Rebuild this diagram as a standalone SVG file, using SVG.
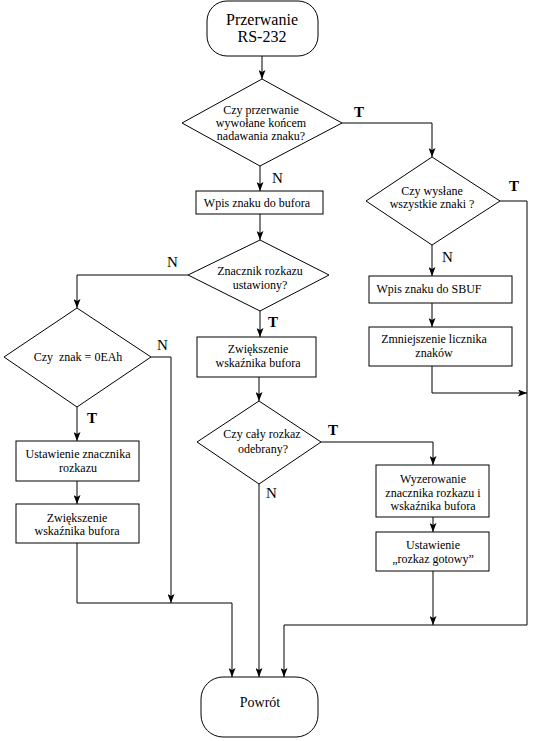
<svg xmlns="http://www.w3.org/2000/svg" width="533" height="741" viewBox="0 0 533 741">
<defs>
<marker id="ah" markerWidth="9" markerHeight="7" refX="9" refY="3.5" orient="auto" markerUnits="userSpaceOnUse">
<path d="M0,0 L9,3.5 L0,7 L2,3.5 z" fill="#000"/>
</marker>
<style>
.s{fill:#fff;stroke:#000;stroke-width:1}
.c{fill:none;stroke:#000;stroke-width:1;marker-end:url(#ah)}
text{font-size:12px;fill:#000;text-anchor:middle}
.big{font-size:16px}
.t{font-size:15px;font-weight:bold;text-anchor:start}
.n{font-size:15px;text-anchor:start}
</style>
</defs>
<rect width="533" height="741" fill="#fff"/>
<g font-family="'Liberation Serif', 'DejaVu Serif', serif">
<g id="connectors">
<path class="c" d="M262,56 V79"/>
<path class="c" d="M342,123 H432 V157"/>
<path class="c" d="M260,166 V191"/>
<path class="c" d="M260,214 V240"/>
<path class="c" d="M188,275 H77 V308"/>
<path class="c" d="M260,311 V337"/>
<path class="c" d="M259,377 V401"/>
<path class="c" d="M321,442 H433 V465"/>
<path class="c" d="M259,484 V677"/>
<path class="c" d="M433,517 V532"/>
<path class="c" d="M433,571 V625"/>
<path class="c" d="M500,201 H527 V625 H284 V677"/>
<path class="c" d="M432,245 V276"/>
<path class="c" d="M432,303 V327"/>
<path class="c" d="M432,366 V393 H527"/>
<path class="c" d="M151,357 H171 V603"/>
<path class="c" d="M77,407 V441"/>
<path class="c" d="M77,481 V504"/>
<path class="c" d="M77,543 V603 H232 V677"/>
<text class="t" x="354" y="117">T</text>
<text class="n" x="272" y="183">N</text>
<text class="t" x="509" y="191">T</text>
<text class="n" x="442" y="262">N</text>
<text class="n" x="167" y="267">N</text>
<text class="n" x="157" y="350">N</text>
<text class="t" x="268" y="327">T</text>
<text class="t" x="328" y="435">T</text>
<text class="n" x="266" y="498">N</text>
<text class="t" x="87" y="423">T</text>
</g>
<g id="start">
<rect class="s" x="207" y="1" width="111" height="55" rx="20" ry="20"/>
<text class="big" x="262" y="25">Przerwanie</text>
<text class="big" x="262" y="42">RS-232</text>
</g>
<g id="d1">
<path class="s" d="M262,79 L342,123 L260,166 L182,123 Z"/>
<text x="261" y="114">Czy przerwanie</text>
<text x="261" y="127">wywołane końcem</text>
<text x="261" y="140">nadawania znaku?</text>
</g>
<g id="b1">
<rect class="s" x="196" y="191" width="127" height="23"/>
<text x="257" y="207">Wpis znaku do bufora</text>
</g>
<g id="d2">
<path class="s" d="M432,157 L500,201 L432,245 L366,201 Z"/>
<text x="432" y="195">Czy wysłane</text>
<text x="432" y="208">wszystkie znaki ?</text>
</g>
<g id="b_sbuf">
<rect class="s" x="369" y="276" width="143" height="27"/>
<text x="429" y="293">Wpis znaku do SBUF</text>
</g>
<g id="b_zmn">
<rect class="s" x="369" y="327" width="143" height="39"/>
<text x="434" y="343">Zmniejszenie licznika</text>
<text x="434" y="357">znaków</text>
</g>
<g id="d3">
<path class="s" d="M260,240 L329,275 L260,311 L188,275 Z"/>
<text x="260" y="275">Znacznik rozkazu</text>
<text x="260" y="289">ustawiony?</text>
</g>
<g id="d4">
<path class="s" d="M77,308 L151,357 L77,407 L4,357 Z"/>
<text x="78" y="361" xml:space="preserve">Czy  znak = 0EAh</text>
</g>
<g id="b_zw1">
<rect class="s" x="197" y="337" width="119" height="40"/>
<text x="258" y="353">Zwiększenie</text>
<text x="258" y="367">wskaźnika bufora</text>
</g>
<g id="d5">
<path class="s" d="M259,401 L321,442 L259,484 L197,442 Z"/>
<text x="262" y="438">Czy cały rozkaz</text>
<text x="263" y="453">odebrany?</text>
</g>
<g id="b_ust1">
<rect class="s" x="16" y="441" width="123" height="40"/>
<text x="78" y="458">Ustawienie znacznika</text>
<text x="78" y="472">rozkazu</text>
</g>
<g id="b_zw2">
<rect class="s" x="16" y="504" width="123" height="39"/>
<text x="77" y="522">Zwiększenie</text>
<text x="77" y="535">wskaźnika bufora</text>
</g>
<g id="b_wyz">
<rect class="s" x="376" y="465" width="113" height="52"/>
<text x="433" y="483">Wyzerowanie</text>
<text x="433" y="497">znacznika rozkazu i</text>
<text x="433" y="510">wskaźnika bufora</text>
</g>
<g id="b_ust2">
<rect class="s" x="376" y="532" width="113" height="39"/>
<text x="433" y="549">Ustawienie</text>
<text x="433" y="563">„rozkaz gotowy”</text>
</g>
<g id="end">
<rect class="s" x="201" y="677" width="117" height="60" rx="22" ry="22"/>
<text x="260" y="707" style="font-size:14px">Powrót</text>
</g>
</g>
</svg>
